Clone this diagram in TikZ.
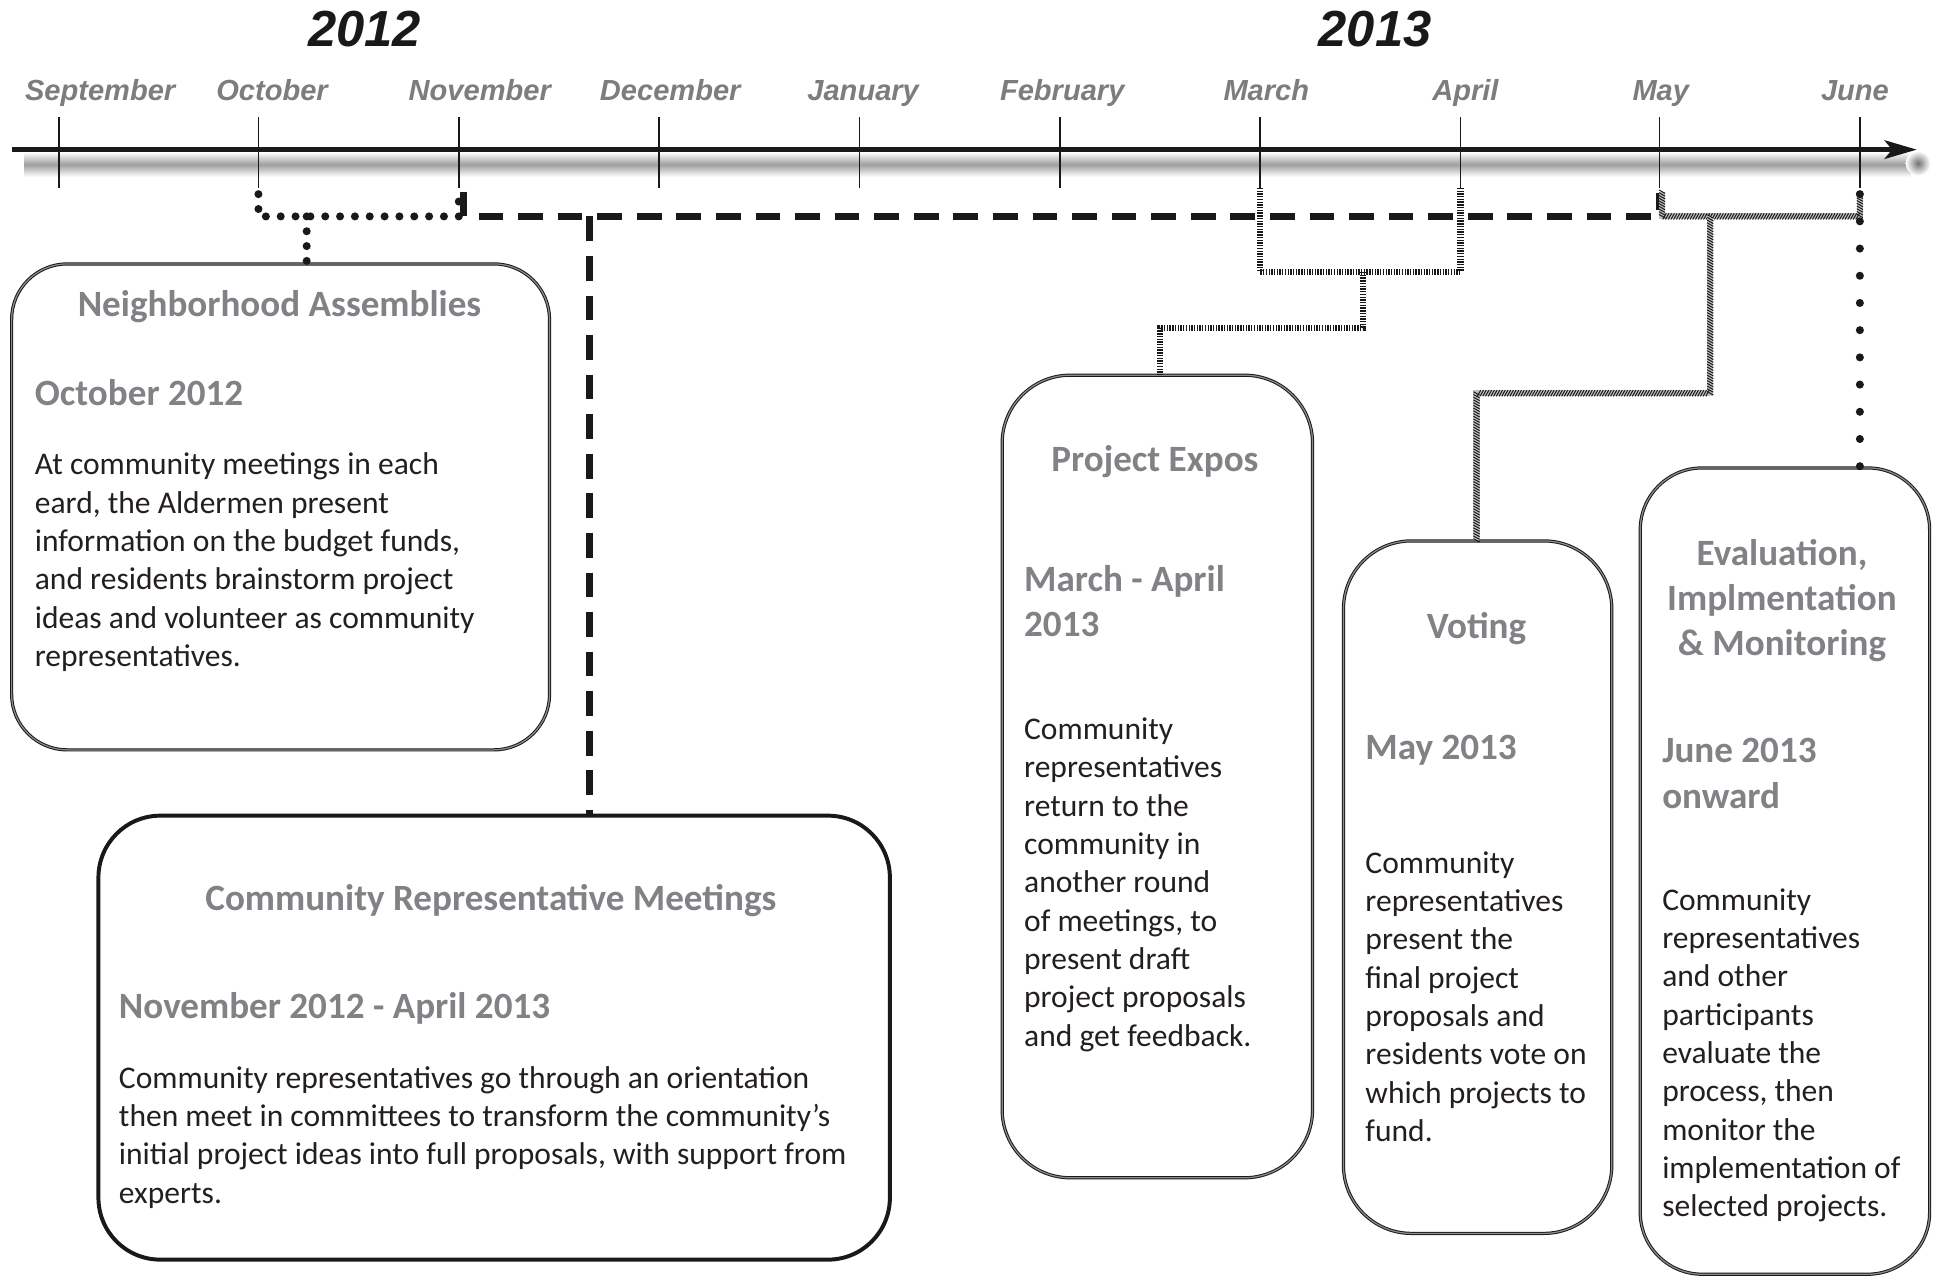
\documentclass[tikz,border=0pt]{standalone}
\usepackage{fontspec}
\setmainfont{Carlito}
\newfontfamily\arialf{Liberation Sans}
\usetikzlibrary{arrows.meta,decorations.markings,calc}
\definecolor{titlegrey}{RGB}{128,130,133}
\definecolor{bodyblack}{RGB}{35,31,32}
\definecolor{monthgrey}{RGB}{125,125,128}
\tikzset{
  monthlab/.style={text=monthgrey, font=\arialf\bfseries\itshape\fontsize{23.5}{28}\selectfont, inner sep=0, anchor=base},
  yearlab/.style={text=black!90, font=\arialf\bfseries\itshape\fontsize{41}{48}\selectfont, inner sep=0, anchor=base},
  tickline/.style={line width=1.5pt, black!90},
  box/.style={draw=black!90, double=black!45, double distance=1pt, line width=0.8pt, inner sep=0, anchor=north west, fill=white},
  bigbox/.style={draw=black!90, line width=3.2pt, inner sep=0, anchor=north west, rounded corners=50pt, fill=white},
  ttl/.style={text=titlegrey, font=\bfseries\fontsize{30}{36.5}\selectfont, inner sep=0},
  bodyt/.style={text=bodyblack, font=\fontsize{25.5}{31}\selectfont, inner sep=0, anchor=base west},
  dotline/.style={line width=6.5pt, line cap=round, dash pattern=on 0pt off 12pt, black!90},
  dotlinewide/.style={line width=6.5pt, line cap=round, dash pattern=on 0pt off 22pt, black!90},
  dashline/.style={line width=5.5pt, dash pattern=on 20pt off 12pt, black!90},
  barline/.style={line width=5pt, dash pattern=on 1.1pt off 1.1pt, black!90},
  hatchline/.style={draw=black!25, line width=5pt,
    postaction={decorate, decoration={markings,
      mark=between positions 0 and 1 step 2.2pt with {\draw[black!90, line width=0.8pt] (-1.4pt,-2.5pt) -- (1.4pt,2.5pt);}}}}
}
\begin{document}
\begin{tikzpicture}[x=1pt,y=-1pt]
\useasboundingbox[fill=white] (0,0) rectangle (1568,1033);

% timeline shadow
\shade[top color=white, bottom color=white, middle color=black!38] (20,123) rectangle (1545,143);
\shade[inner color=black!55, outer color=white] (1551,132) circle (10pt);

% years
\node[yearlab] (y2012) at (295,38) {2012};
\node[yearlab] (y2013) at (1112,38) {2013};

% months
\foreach \nm/\lx in {September/81, October/220, November/388, December/542, January/698, February/859, March/1024, April/1185, May/1343, June/1500}
  \node[monthlab] (lab\nm) at (\lx,81.5) {\nm};

% main line
\draw[line width=3.6pt, black!90, -{Stealth[length=26pt, width=15pt, inset=6pt]}] (10,121) -- (1550,121);

% ticks
\foreach \n/\x in {sep/48, oct/209, nov/371, dec/533, jan/695, feb/857, mar/1019, apr/1181, may/1342, jun/1504}
  \draw[tickline] (\x,95) -- (\x,152) coordinate (t\n);

% boxes
\node[box, rounded corners=45pt, minimum width=435pt, minimum height=393pt] (na) at (9,213) {};
\node[bigbox, minimum width=640pt, minimum height=359pt] (crm) at (78,658) {};
\node[box, rounded corners=55pt, minimum width=251pt, minimum height=649pt] (pe) at (810,303) {};
\node[box, rounded corners=55pt, minimum width=217pt, minimum height=560pt] (vot) at (1086,437) {};
\node[box, rounded corners=50pt, minimum width=234pt, minimum height=652pt] (ev) at (1326,378) {};

% junction coordinates
\coordinate (nadrop) at (248,175);
\coordinate (crmdrop) at (477,175);
\coordinate (pej) at (1102,220);
\coordinate (pek) at (938,265);
\coordinate (vj) at (1383,175);
\coordinate (vk) at (1194,318);

% Community Representative Meetings connector
\draw[dashline] ($(tnov)+(4,3)$) |- (tmay |- crmdrop) -- ($(tmay)+(0,4)$);
\draw[dashline] (crmdrop) -- (crmdrop |- crm.north);

% Neighborhood Assemblies connector
\draw[dotline] ($(toct)+(0,5)$) |- (tnov |- nadrop) -- ($(tnov)+(0,5)$);
\draw[dotline] (nadrop) -- (nadrop |- na.north);

% Project Expos connector
\draw[barline] (tmar) |- (pej) -| (tapr);
\draw[barline] (pej) |- (pek) -- (pek |- pe.north);

% Voting connector
\draw[hatchline] ($(tmay)+(2,3)$) |- (vj) -| ($(tjun)+(0,3)$);
\draw[hatchline] (vj) |- (vk) -- (vk |- vot.north);

% Evaluation connector
\draw[dotlinewide] ($(tjun)+(0,5)$) -- (tjun |- ev.north);

% texts: Neighborhood Assemblies
\node[ttl, anchor=base] (natitle) at (226,256) {Neighborhood Assemblies};
\node[ttl, anchor=base west] (nadate) at (28,328) {October 2012};
\node[bodyt] (nabody) at (28,384) {\parbox[t]{420pt}{At community meetings in each\\
eard, the Aldermen present\\
information on the budget funds,\\
and residents brainstorm project\\
ideas and volunteer as community\\
representatives.}};

% Community Representative Meetings
\node[ttl, anchor=base] (crmtitle) at (397,736) {Community Representative Meetings};
\node[ttl, anchor=base west] (crmdate) at (96,824) {November 2012 - April 2013};
\node[bodyt] (crmbody) at (96,880) {\parbox[t]{620pt}{Community representatives go through an orientation\\
then meet in committees to transform the community’s\\
initial project ideas into full proposals, with support from\\
experts.}};

% Project Expos
\node[ttl, anchor=base] (petitle) at (934,381) {Project Expos};
\node[ttl, anchor=base west] (pedate) at (828,478) {\parbox[t]{230pt}{March - April\\2013}};
\node[bodyt] (pebody) at (828,598) {\parbox[t]{230pt}{Community\\
representatives\\
return to the\\
community in\\
another round\\
of meetings, to\\
present draft\\
project proposals\\
and get feedback.}};

% Voting
\node[ttl, anchor=base] (vottitle) at (1194,516) {Voting};
\node[ttl, anchor=base west] (votdate) at (1104,614) {May 2013};
\node[bodyt] (votbody) at (1104,706) {\parbox[t]{200pt}{Community\\
representatives\\
present the\\
final project\\
proposals and\\
residents vote on\\
which projects to\\
fund.}};

% Evaluation
\node[ttl, anchor=base] (evtitle) at (1441,457) {\parbox[t]{230pt}{\centering Evaluation,\\Implmentation\\\& Monitoring}};
\node[ttl, anchor=base west] (evdate) at (1344,617) {\parbox[t]{210pt}{June 2013\\onward}};
\node[bodyt] (evbody) at (1344,736) {\parbox[t]{215pt}{Community\\
representatives\\
and other\\
participants\\
evaluate the\\
process, then\\
monitor the\\
implementation of\\
selected projects.}};
\end{tikzpicture}
\end{document}
